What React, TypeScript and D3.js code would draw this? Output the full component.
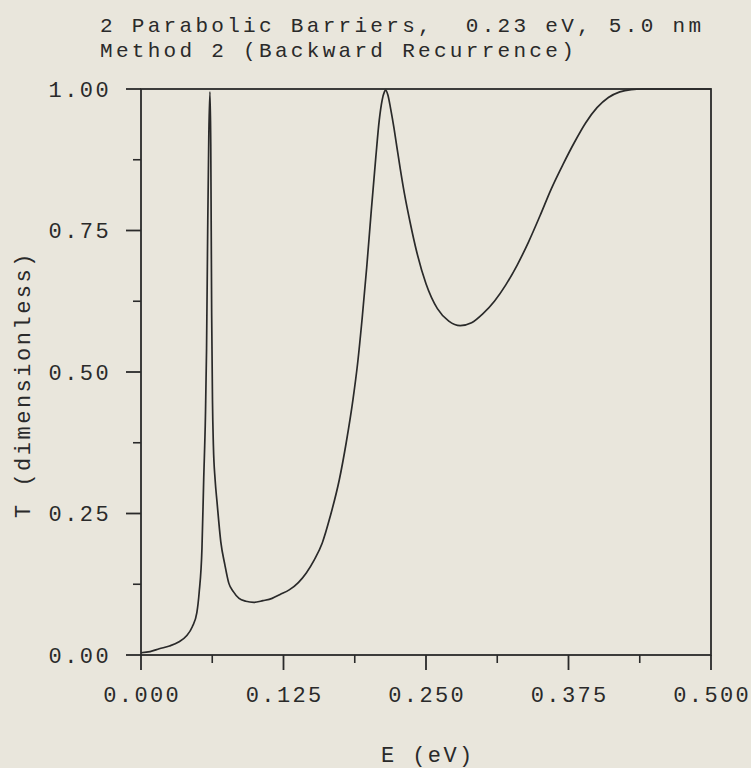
import React from "react";
import * as d3 from "d3";

const titleLines = ["2 Parabolic Barriers,  0.23 eV, 5.0 nm", "Method 2 (Backward Recurrence)"];
const xLabel = "E (eV)";
const yLabel = "T (dimensionless)";
const xTicks = [0, 0.125, 0.25, 0.375, 0.5];
const xTickLabels = ["0.000", "0.125", "0.250", "0.375", "0.500"];
const xMinor = [0.0625, 0.1875, 0.3125, 0.4375];
const yTicks = [0, 0.25, 0.5, 0.75, 1.0];
const yTickLabels = ["0.00", "0.25", "0.50", "0.75", "1.00"];
const yMinor = [0.125, 0.375, 0.625, 0.875];

const energy = [
  0, 0.008, 0.016, 0.025, 0.033, 0.04, 0.045, 0.049, 0.051, 0.0535, 0.055, 0.0565, 0.0575, 0.0585, 0.0595,
  0.0605, 0.0612, 0.0616, 0.062, 0.0627, 0.0635, 0.065, 0.0667, 0.07, 0.0735, 0.077, 0.081, 0.086, 0.092,
  0.099, 0.107, 0.115, 0.122, 0.13, 0.138, 0.145, 0.152, 0.159, 0.166, 0.174, 0.18, 0.186, 0.19, 0.194,
  0.198, 0.202, 0.206, 0.209, 0.2115, 0.2135, 0.2145, 0.2165, 0.219, 0.222, 0.2245, 0.2275, 0.231, 0.236,
  0.242, 0.25, 0.26, 0.27, 0.28, 0.29, 0.3, 0.31, 0.32, 0.33, 0.34, 0.35, 0.36, 0.37, 0.38, 0.39, 0.4,
  0.41, 0.42, 0.43, 0.44, 0.455, 0.47, 0.485, 0.5,
];
const transmission = [
  0.004, 0.006, 0.011, 0.016, 0.023, 0.034, 0.05, 0.075, 0.11, 0.19, 0.31, 0.42, 0.54, 0.75, 0.92,
  0.995, 0.9, 0.75, 0.6, 0.45, 0.37, 0.31, 0.27, 0.2, 0.16, 0.127, 0.112, 0.1, 0.095,
  0.093, 0.096, 0.1, 0.107, 0.115, 0.128, 0.145, 0.168, 0.198, 0.245, 0.31, 0.375, 0.452, 0.515, 0.595,
  0.685, 0.785, 0.88, 0.945, 0.98, 0.995, 0.998, 0.99, 0.965, 0.93, 0.897, 0.858, 0.816, 0.765,
  0.711, 0.656, 0.612, 0.59, 0.582, 0.587, 0.603, 0.625, 0.654, 0.689, 0.73, 0.776, 0.824, 0.866, 0.905,
  0.94, 0.967, 0.985, 0.995, 0.999, 1.0, 1.0, 1.0, 1.0, 1.0,
];

const W = 751;
const H = 768;
const L = 141, R = 711, T = 89, B = 655;
const ink = "#2a2a2a";
const bg = "#e9e6dc";
const font = "'Liberation Mono', 'Courier New', monospace";

export default function App() {
  const x = d3.scaleLinear().domain([0, 0.5]).range([L, R]);
  const y = d3.scaleLinear().domain([0, 1]).range([B, T]);
  const pts: [number, number][] = energy.map((e, i) => [e, transmission[i]]);
  const line = d3
    .line<[number, number]>()
    .x((d) => x(d[0]))
    .y((d) => y(d[1]))
    .curve(d3.curveMonotoneX);

  return (
    <>
      <style>{`body{margin:0;background:${bg}}`}</style>
      <svg width={W} height={H} style={{ display: "block", background: bg }}>
        <rect x={0} y={0} width={W} height={H} fill={bg} />
        {titleLines.map((t, i) => (
          <text
            key={i}
            x={100}
            y={32 + i * 25}
            fontFamily={font}
            fontSize={21}
            letterSpacing={3.3}
            fill={ink}
            style={{ whiteSpace: "pre" }}
          >
            {t}
          </text>
        ))}
        <path d={line(pts) || ""} fill="none" stroke={ink} strokeWidth={1.7} strokeLinejoin="round" />
        <rect x={L} y={T} width={R - L} height={B - T} fill="none" stroke={ink} strokeWidth={1.8} />
        {yTicks.map((v, i) => (
          <g key={"yt" + i}>
            <line x1={L - 15} x2={L} y1={y(v)} y2={y(v)} stroke={ink} strokeWidth={1.8} />
            <text
              x={111}
              y={y(v)}
              dy="0.35em"
              textAnchor="end"
              fontFamily={font}
              fontSize={22}
              letterSpacing={2.4}
              fill={ink}
            >
              {yTickLabels[i]}
            </text>
          </g>
        ))}
        {yMinor.map((v, i) => (
          <line key={"ym" + i} x1={L - 8} x2={L} y1={y(v)} y2={y(v)} stroke={ink} strokeWidth={1.6} />
        ))}
        {xTicks.map((v, i) => (
          <g key={"xt" + i}>
            <line x1={x(v)} x2={x(v)} y1={B} y2={B + 15} stroke={ink} strokeWidth={1.8} />
            <text
              x={x(v) + 1.2}
              y={702}
              textAnchor="middle"
              fontFamily={font}
              fontSize={22}
              letterSpacing={2.4}
              fill={ink}
            >
              {xTickLabels[i]}
            </text>
          </g>
        ))}
        {xMinor.map((v, i) => (
          <line key={"xm" + i} x1={x(v)} x2={x(v)} y1={B} y2={B + 8} stroke={ink} strokeWidth={1.6} />
        ))}
        <text x={381} y={762} fontFamily={font} fontSize={22} letterSpacing={2.4} fill={ink} style={{ whiteSpace: "pre" }}>
          {xLabel}
        </text>
        <text
          transform={`translate(30,518) rotate(-90)`}
          fontFamily={font}
          fontSize={22}
          letterSpacing={2.5}
          fill={ink}
          style={{ whiteSpace: "pre" }}
        >
          {yLabel}
        </text>
      </svg>
    </>
  );
}
